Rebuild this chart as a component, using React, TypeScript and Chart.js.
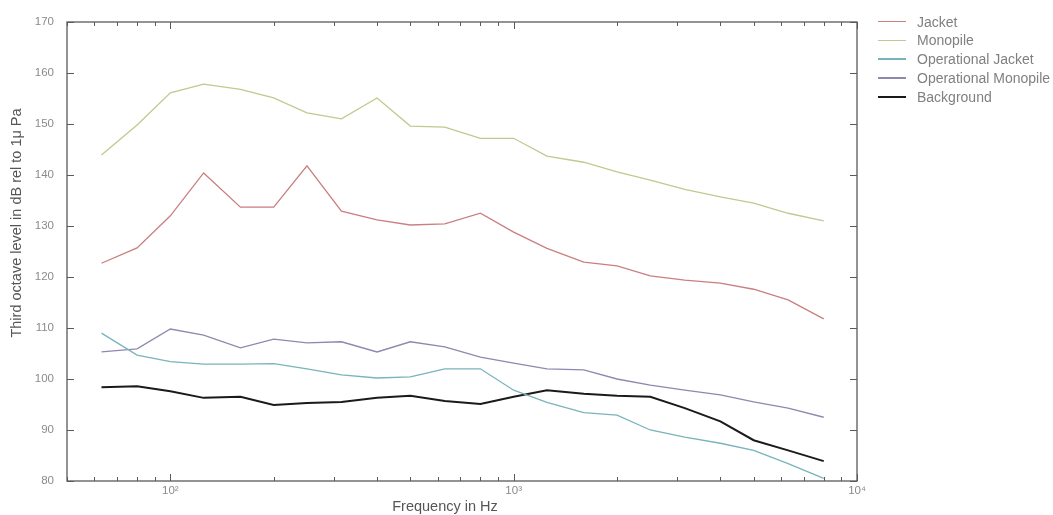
import React, { useEffect, useRef } from "react";
import { Chart, registerables } from "chart.js";

Chart.register(...registerables);

const frequencies = [63, 80, 100, 125, 160, 200, 250, 315, 400, 500, 630, 800, 1000, 1250, 1600, 2000, 2500, 3150, 4000, 5000, 6300, 8000];
const jacket = [122.7, 125.7, 132.0, 140.4, 133.7, 133.7, 141.8, 132.9, 131.2, 130.2, 130.4, 132.5, 128.8, 125.6, 122.9, 122.2, 120.2, 119.4, 118.8, 117.6, 115.5, 111.8];
const monopile = [143.9, 149.8, 156.1, 157.8, 156.8, 155.1, 152.2, 151.0, 155.1, 149.6, 149.4, 147.2, 147.2, 143.7, 142.5, 140.6, 139.0, 137.2, 135.7, 134.5, 132.5, 131.0];
const opJacket = [109.0, 104.7, 103.4, 102.9, 102.9, 103.0, 102.0, 100.8, 100.2, 100.4, 102.0, 102.0, 97.8, 95.4, 93.4, 92.9, 90.0, 88.6, 87.4, 86.0, 83.4, 80.5];
const opMonopile = [105.3, 105.9, 109.8, 108.6, 106.1, 107.8, 107.1, 107.3, 105.3, 107.3, 106.3, 104.3, 103.1, 102.0, 101.8, 100.0, 98.8, 97.8, 96.9, 95.5, 94.3, 92.5];
const background = [98.4, 98.6, 97.6, 96.3, 96.5, 94.9, 95.3, 95.5, 96.3, 96.7, 95.7, 95.1, 96.5, 97.8, 97.1, 96.7, 96.5, 94.3, 91.7, 88.0, 86.0, 83.9];

const seriesNames = ["Jacket", "Monopile", "Operational Jacket", "Operational Monopile", "Background"];
const seriesColors = ["#c97f80", "#bccb8e", "#78b4bb", "#8f88ae", "#1a1a1a"];
const seriesWidths = [1.3, 1.3, 1.3, 1.3, 2];
const seriesValues = [jacket, monopile, opJacket, opMonopile, background];

const xMin = 50;
const xMax = 10000;
const yMin = 80;
const yMax = 170;
const yStep = 10;
const xTickValues: number[] = [];
for (let d = 10; d <= 1000; d *= 10) {
  for (let m = 1; m <= 9; m++) {
    const v = m * d;
    if (v >= xMin && v <= xMax) xTickValues.push(v);
  }
}
xTickValues.push(10000);

const xTitle = "Frequency in Hz";
const yTitle = "Third octave level in dB rel to 1\u03bc Pa";
const supers: Record<string, string> = { "0": "\u2070", "1": "\u00b9", "2": "\u00b2", "3": "\u00b3", "4": "\u2074", "5": "\u2075" };

const FONT = "'Liberation Sans', Arial, sans-serif";

function isPow10(v: number) {
  const l = Math.log10(v);
  return Math.abs(l - Math.round(l)) < 1e-9;
}

export default function App() {
  const ref = useRef<HTMLCanvasElement | null>(null);

  useEffect(() => {
    if (!ref.current) return;
    const framePlugin = {
      id: "framePlugin",
      afterDraw(chart: any) {
        const { ctx, chartArea: a, scales } = chart;
        const x = scales.x;
        const y = scales.y;
        ctx.save();
        ctx.strokeStyle = "#5a5a5a";
        ctx.lineWidth = 1.3;
        ctx.strokeRect(a.left, a.top, a.right - a.left, a.bottom - a.top);
        ctx.lineWidth = 1;
        const ln = (x1: number, y1: number, x2: number, y2: number) => {
          ctx.beginPath();
          ctx.moveTo(x1, y1);
          ctx.lineTo(x2, y2);
          ctx.stroke();
        };
        x.ticks.forEach((t: any) => {
          const px = Math.round(x.getPixelForValue(t.value)) + 0.5;
          const len = isPow10(t.value) ? 7 : 4;
          ln(px, a.bottom, px, a.bottom - len);
          ln(px, a.top, px, a.top + len);
        });
        y.ticks.forEach((t: any) => {
          const py = Math.round(y.getPixelForValue(t.value)) + 0.5;
          ln(a.left, py, a.left + 7, py);
          ln(a.right, py, a.right - 7, py);
        });
        ctx.fillStyle = "#555";
        ctx.font = `14.5px ${FONT}`;
        ctx.textAlign = "center";
        ctx.textBaseline = "middle";
        ctx.fillText(xTitle, 445, 507);
        ctx.translate(17, 223);
        ctx.rotate(-Math.PI / 2);
        ctx.fillText(yTitle, 0, 0);
        ctx.restore();
      },
    };

    const chart = new Chart(ref.current, {
      type: "line",
      data: {
        datasets: seriesNames.map((name, i) => ({
          label: name,
          data: frequencies.map((f, j) => ({ x: f, y: seriesValues[i][j] })),
          borderColor: seriesColors[i],
          backgroundColor: seriesColors[i],
          borderWidth: seriesWidths[i],
          pointRadius: 0,
          tension: 0,
          fill: false,
        })),
      },
      options: {
        animation: false,
        responsive: true,
        maintainAspectRatio: false,
        layout: { padding: { top: 22, right: 196, left: 0, bottom: 0 } },
        plugins: { legend: { display: false }, tooltip: { enabled: false } },
        scales: {
          x: {
            type: "logarithmic",
            min: xMin,
            max: xMax,
            grid: { display: false, drawTicks: false },
            border: { display: false },
            afterBuildTicks: (scale: any) => {
              scale.ticks = xTickValues.map((v) => ({ value: v }));
            },
            afterFit: (scale: any) => {
              scale.height = 34;
            },
            ticks: {
              autoSkip: false,
              maxRotation: 0,
              minRotation: 0,
              padding: 3,
              color: "#8a8a8a",
              font: { family: FONT, size: 11.5 },
              callback: (v: any) => {
                const n = Number(v);
                if (!isPow10(n)) return "";
                const e = String(Math.round(Math.log10(n)));
                return "10" + e.split("").map((c) => supers[c]).join("");
              },
            },
          },
          y: {
            type: "linear",
            min: yMin,
            max: yMax,
            grid: { display: false, drawTicks: false },
            border: { display: false },
            afterFit: (scale: any) => {
              scale.width = 67;
            },
            ticks: {
              stepSize: yStep,
              padding: 13,
              color: "#8a8a8a",
              font: { family: FONT, size: 11.5 },
            },
          },
        },
      },
      plugins: [framePlugin],
    } as any);
    return () => chart.destroy();
  }, []);

  const legendTops = [21.5, 40.3, 59.1, 77.9, 96.7];

  return (
    <div style={{ position: "fixed", left: 0, top: 0, width: 1053, height: 515, background: "#fff" }}>
      <canvas ref={ref} />
      {seriesNames.map((name, i) => (
        <div
          key={name}
          style={{
            position: "absolute",
            left: 878,
            top: legendTops[i] - 9,
            height: 18,
            display: "flex",
            alignItems: "center",
            whiteSpace: "nowrap",
          }}
        >
          <div style={{ width: 28, height: i === 4 ? 2 : 1.5, background: seriesColors[i] }} />
          <span style={{ marginLeft: 11, fontFamily: FONT, fontSize: 14, color: "#808080" }}>{name}</span>
        </div>
      ))}
    </div>
  );
}
